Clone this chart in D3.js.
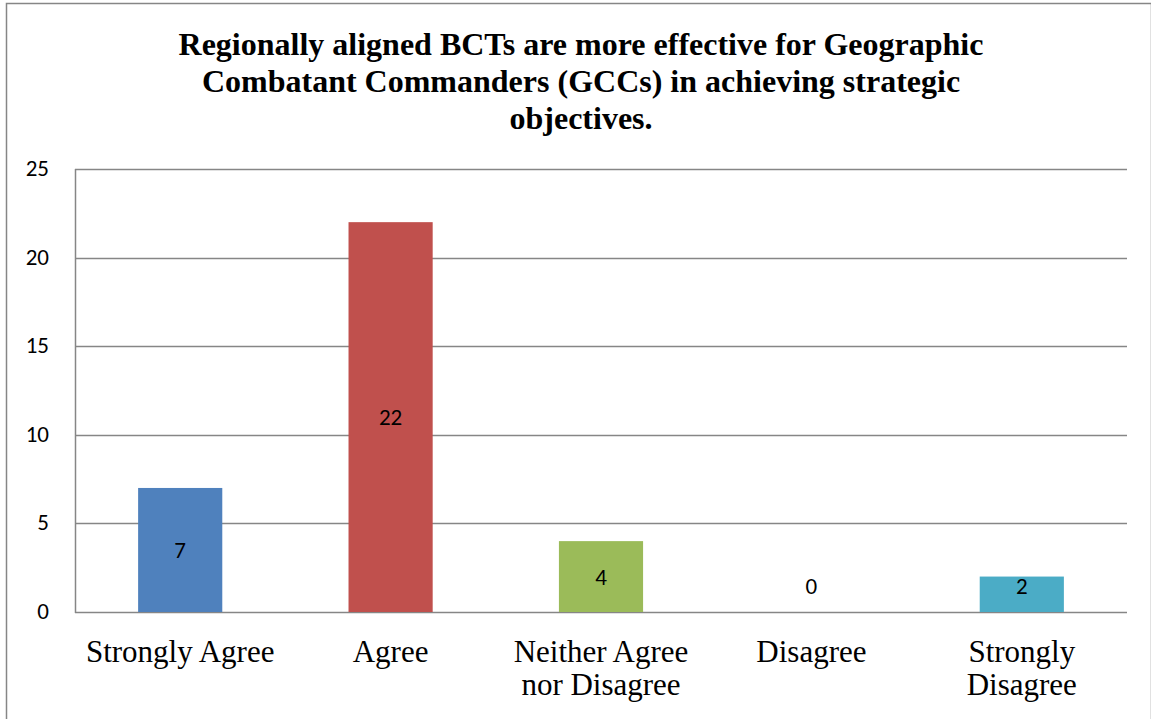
<!DOCTYPE html>
<html>
<head>
<meta charset="utf-8">
<script src="https://cdn.jsdelivr.net/npm/d3@7"></script>
<style>
  html, body { margin: 0; padding: 0; background: #fff; }
  svg { display: block; }
</style>
</head>
<body>
<svg id="chart" width="1151" height="719"></svg>
<script>
// Survey responses
const categories = ["Strongly Agree", "Agree", "Neither Agree\nnor Disagree", "Disagree", "Strongly\nDisagree"];
const counts = [7, 22, 4, 0, 2];
const barColors = ["#4F81BD", "#C0504D", "#9BBB59", "#8064A2", "#4BACC6"];
const yTicks = [0, 5, 10, 15, 20, 25];
const titleLines = [
  "Regionally aligned BCTs are more effective for Geographic",
  "Combatant Commanders (GCCs) in achieving strategic",
  "objectives."
];

const svg = d3.select("#chart");
const W = 1151, H = 719;
const plot = { left: 75, right: 1127, top: 169, bottom: 612 };
const sansFont = "Carlito, 'Open Sans', 'Liberation Sans', Arial, sans-serif";
const serifFont = "'Liberation Serif', 'Times New Roman', serif";

// outer chart frame
svg.append("rect")
  .attr("x", 6.5).attr("y", 3.5)
  .attr("width", W - 6).attr("height", H)
  .attr("fill", "#fff").attr("stroke", "#868686").attr("stroke-width", 1.5);

// title
const title = svg.append("text")
  .attr("font-family", serifFont)
  .attr("font-weight", "bold")
  .attr("font-size", 32)
  .attr("text-anchor", "middle")
  .attr("fill", "#000");
titleLines.forEach((t, i) => {
  title.append("tspan").attr("x", 581).attr("y", 55 + i * 37).text(t);
});

const x = d3.scaleBand().domain(categories).range([plot.left, plot.right]).paddingInner(0).paddingOuter(0);
const y = d3.scaleLinear().domain([0, 25]).range([plot.bottom, plot.top]);

// gridlines
svg.append("g").selectAll("line").data(yTicks).join("line")
  .attr("x1", plot.left).attr("x2", plot.right)
  .attr("y1", d => Math.round(y(d)) + 0.5).attr("y2", d => Math.round(y(d)) + 0.5)
  .attr("stroke", "#868686").attr("stroke-width", 1.5);

// y axis line
svg.append("line")
  .attr("x1", plot.left + 0.5).attr("x2", plot.left + 0.5)
  .attr("y1", plot.top).attr("y2", plot.bottom + 1)
  .attr("stroke", "#868686").attr("stroke-width", 1.5);

// y tick labels
svg.append("g").selectAll("text").data(yTicks).join("text")
  .attr("x", 49).attr("y", d => y(d) - 1)
  .attr("dy", "0.35em")
  .attr("text-anchor", "end")
  .attr("font-family", sansFont)
  .attr("font-size", 23)
  .attr("fill", "#000")
  .text(d => d);

// bars
const barW = x.bandwidth() * 0.4;
svg.append("g").selectAll("rect").data(counts).join("rect")
  .attr("x", (d, i) => x(categories[i]) + (x.bandwidth() - barW) / 2)
  .attr("y", d => y(d))
  .attr("width", barW)
  .attr("height", d => y(0) - y(d))
  .attr("fill", (d, i) => barColors[i]);

// value labels
svg.append("g").selectAll("text").data(counts).join("text")
  .attr("x", (d, i) => x(categories[i]) + x.bandwidth() / 2)
  .attr("y", d => Math.min((y(d) + y(0)) / 2, y(0) - 26))
  .attr("dy", "0.35em")
  .attr("text-anchor", "middle")
  .attr("font-family", sansFont)
  .attr("font-size", 23)
  .attr("fill", "#000")
  .text(d => d);

// category labels
const xl = svg.append("g").selectAll("text").data(categories).join("text")
  .attr("text-anchor", "middle")
  .attr("font-family", serifFont)
  .attr("font-size", 31)
  .attr("fill", "#000");
xl.each(function (d) {
  const cx = x(d) + x.bandwidth() / 2;
  d.split("\n").forEach((line, j) => {
    d3.select(this).append("tspan").attr("x", cx).attr("y", 662 + j * 33).text(line);
  });
});
</script>
</body>
</html>
